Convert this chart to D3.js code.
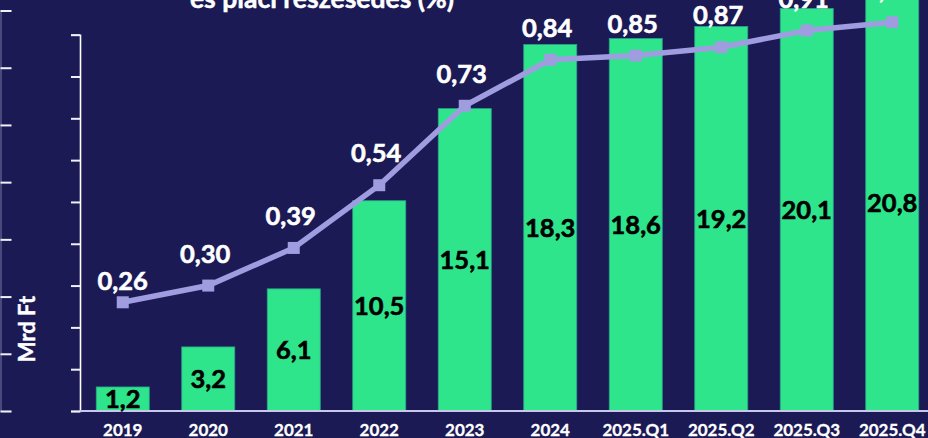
<!DOCTYPE html>
<html>
<head>
<meta charset="utf-8">
<script src="https://cdn.jsdelivr.net/npm/d3@7"></script>
<style>
  html, body { margin: 0; padding: 0; background: #1b1a55; }
  svg { display: block; }
  text { font-family: Lato, "Open Sans", sans-serif; font-weight: 700; }
</style>
</head>
<body>
<svg id="chart" width="928" height="438"></svg>
<script>
const categories = ["2019", "2020", "2021", "2022", "2023", "2024", "2025.Q1", "2025.Q2", "2025.Q3", "2025.Q4"];
const volumeMrdFt = [1.2, 3.2, 6.1, 10.5, 15.1, 18.3, 18.6, 19.2, 20.1, 20.8];
const marketShare = [0.26, 0.30, 0.39, 0.54, 0.73, 0.84, 0.85, 0.87, 0.91, 0.93];
const titleText = "és piaci részesedés (%)";
const yAxisLabel = "Mrd Ft";
const fmt = (v, d) => v.toFixed(d).replace(".", ",");

const W = 928, H = 438;
const svg = d3.select("#chart");
svg.append("rect").attr("width", W).attr("height", H).attr("fill", "#1b1a55");

const base = 411;
const x = d3.scaleBand().domain(categories).range([80, 935]).paddingInner(0.38).paddingOuter(0.19);
const yBar = d3.scaleLinear().domain([0, 20]).range([base, 10.5]);
const yPct = d3.scaleLinear().domain([0, 0.9]).range([base, 34.7]);

// Outer (left edge) axis
const outerTicks = d3.range(8).map(i => 20 * i / 7);
const outer = svg.append("g").attr("transform", "translate(0.5,0)")
  .call(d3.axisRight(yBar).tickValues(outerTicks).tickSize(11).tickFormat(""));
outer.select(".domain").attr("stroke", "#5b5a8c").attr("stroke-width", 1.5);
outer.selectAll(".tick line").attr("stroke", "#f0f0f8").attr("stroke-width", 2);

// Inner axis (percentage)
const inner = svg.append("g").attr("transform", "translate(80,0)")
  .call(d3.axisLeft(yPct).ticks(9).tickSize(9).tickFormat(""));
inner.select(".domain").attr("stroke", "#ffffff").attr("stroke-width", 1.6);
inner.selectAll(".tick line").attr("stroke", "#f0f0f8").attr("stroke-width", 2);

// Bars
svg.append("g").selectAll("rect").data(categories).join("rect")
  .attr("x", d => x(d))
  .attr("width", x.bandwidth())
  .attr("y", (d, i) => yBar(volumeMrdFt[i]))
  .attr("height", (d, i) => base - yBar(volumeMrdFt[i]))
  .attr("fill", "#2ee58c")
  .attr("stroke", "#2aa58a").attr("stroke-width", 0.8);

// Baseline
svg.append("line").attr("x1", 80).attr("x2", W).attr("y1", base).attr("y2", base)
  .attr("stroke", "#c9c8ec").attr("stroke-width", 2);

// Bar labels
svg.append("g").selectAll("text").data(categories).join("text")
  .attr("x", d => x(d) + x.bandwidth() / 2)
  .attr("y", (d, i) => (yBar(volumeMrdFt[i]) + base) / 2 + 9)
  .attr("text-anchor", "middle")
  .attr("font-size", 25.5)
  .attr("fill", "#000000")
  .attr("stroke", "#000000").attr("stroke-width", 0.6)
  .text((d, i) => fmt(volumeMrdFt[i], 1));

// Line
const cx = d => x(d) + x.bandwidth() / 2;
const line = d3.line().x((d, i) => cx(categories[i])).y(d => yPct(d));
svg.append("path").datum(marketShare).attr("d", line)
  .attr("fill", "none").attr("stroke", "#9f9de0").attr("stroke-width", 5.5);
svg.append("g").selectAll("rect").data(marketShare).join("rect")
  .attr("x", (d, i) => cx(categories[i]) - 6)
  .attr("y", d => yPct(d) - 6)
  .attr("width", 12).attr("height", 12)
  .attr("fill", "#9f9de0");

// Line labels
svg.append("g").selectAll("text").data(marketShare).join("text")
  .attr("x", (d, i) => cx(categories[i]) - (i === 0 ? 0 : 3))
  .attr("y", (d, i) => yPct(d) - (i === 0 ? 12 : 23))
  .attr("text-anchor", "middle")
  .attr("font-size", 25.5)
  .attr("fill", "#ffffff")
  .attr("stroke", "#ffffff").attr("stroke-width", 0.6)
  .text(d => fmt(d, 2));

// X axis labels
svg.append("g").selectAll("text").data(categories).join("text")
  .attr("x", d => cx(d))
  .attr("y", 435.5)
  .attr("text-anchor", "middle")
  .attr("font-size", 17)
  .attr("fill", "#ffffff")
  .attr("stroke", "#ffffff").attr("stroke-width", 0.3)
  .text(d => d);

// Y axis title
svg.append("text")
  .attr("transform", "translate(35,329) rotate(-90)")
  .attr("text-anchor", "middle")
  .attr("font-size", 22)
  .attr("fill", "#ffffff")
  .attr("stroke", "#ffffff").attr("stroke-width", 0.4)
  .text(yAxisLabel);

// Title (cut off at top)
svg.append("text")
  .attr("x", 322).attr("y", 8)
  .attr("text-anchor", "middle")
  .attr("font-size", 26.5)
  .attr("fill", "#ffffff")
  .attr("stroke", "#ffffff").attr("stroke-width", 0.5)
  .text(titleText);
</script>
</body>
</html>
